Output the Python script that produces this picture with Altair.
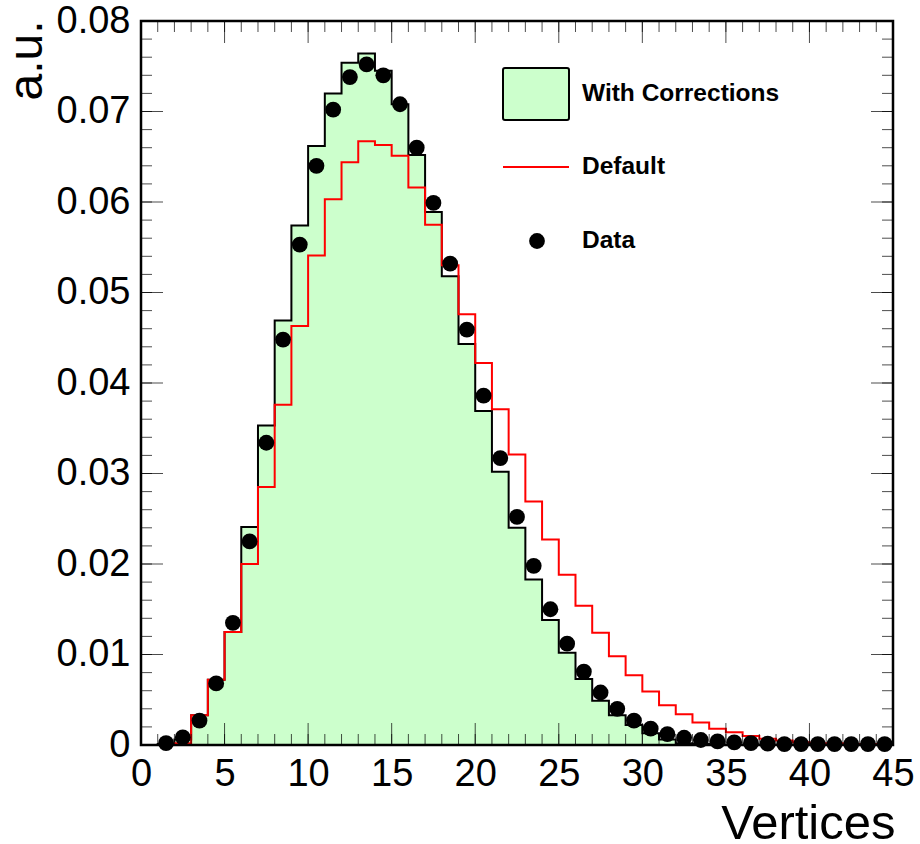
import altair as alt
import pandas as pd

# Number of reconstructed vertices, one bin per unit from 0 to 45
edges = list(range(0, 46))

# Normalised simulation with corrections (filled histogram)
with_corrections = [
    0.0, 0.0001, 0.0006, 0.0033, 0.0072, 0.0125, 0.0241, 0.0353, 0.0469, 0.0574,
    0.0662, 0.0720, 0.0754, 0.0764, 0.0745, 0.0708, 0.0652, 0.0589, 0.0518, 0.0443,
    0.0369, 0.0302, 0.0240, 0.0183, 0.0138, 0.0102, 0.0073, 0.0049, 0.0033, 0.0022,
    0.0013, 0.0006, 0.0002, 0.0001, 0.0, 0.0, 0.0, 0.0, 0.0, 0.0,
    0.0, 0.0, 0.0, 0.0, 0.0,
]

# Normalised default simulation (red outline)
default = [
    0.0, 0.0, 0.0002, 0.0033, 0.0072, 0.0125, 0.0200, 0.0285, 0.0376, 0.0463,
    0.0541, 0.0603, 0.0644, 0.0667, 0.0663, 0.0651, 0.0616, 0.0575, 0.0530, 0.0476,
    0.0422, 0.0371, 0.0321, 0.0269, 0.0227, 0.0188, 0.0154, 0.0124, 0.0098, 0.0077,
    0.0059, 0.0044, 0.0034, 0.0025, 0.0018, 0.0014, 0.0010, 0.0007, 0.0005, 0.0003,
    0.0002, 0.0002, 0.0001, 0.0001, 0.0001,
]

# Normalised data (markers at bin centres, empty first bin)
data_values = [
    None, 0.0002, 0.00085, 0.0027, 0.0068, 0.0135, 0.0225, 0.0334, 0.0448, 0.0553,
    0.0640, 0.0702, 0.0738, 0.0752, 0.0740, 0.0708, 0.0660, 0.0599, 0.0532, 0.0459,
    0.0386, 0.0317, 0.0252, 0.0198, 0.0150, 0.0112, 0.0081, 0.0058, 0.0040, 0.0027,
    0.0018, 0.0012, 0.0008, 0.00055, 0.0004, 0.0003, 0.0002, 0.00015, 0.0001, 0.0001,
    0.0001, 0.0001, 0.0001, 0.0001, 0.0001,
]

legend_labels = ["With Corrections", "Default", "Data"]

x_range = [0, 45]
y_range = [0.0, 0.08]
x_major = list(range(0, 46, 5))
x_minor = list(range(0, 46))
y_major = [round(0.01 * i, 2) for i in range(9)]
y_minor = [round(0.002 * i, 3) for i in range(41)]

W, H = 752, 724
FONT = "Liberation Sans"
GREEN = "#ccffcc"
RED = "#ff0000"

hist = pd.DataFrame({
    "edge": edges,
    "corr": with_corrections + [with_corrections[-1]],
    "default": default + [default[-1]],
})
points = pd.DataFrame({
    "center": [i + 0.5 for i in range(len(data_values))],
    "value": data_values,
}).dropna()

xscale = alt.Scale(domain=x_range, nice=False, zero=False)
yscale = alt.Scale(domain=y_range, nice=False, zero=True)

x_axis = alt.Axis(
    title="Vertices", values=x_major, format="d",
    ticks=False, tickSize=0, domain=False, grid=False,
    labelFont=FONT, labelFontSize=38, labelColor="black",
    labelPadding=10, labelBaseline="top", labelFlush=False, labelOverlap=False,
    titleFont=FONT, titleFontSize=49, titleFontWeight="normal", titleColor="black",
    titleAlign="right", titleAnchor="end", titleBaseline="alphabetic",
    titleX=W + 2, titleY=93,
)
y_axis = alt.Axis(
    title="a.u.", values=y_major,
    labelExpr="datum.value == 0 ? '0' : format(datum.value, '.2f')",
    ticks=False, tickSize=0, domain=False, grid=False,
    labelFont=FONT, labelFontSize=38, labelColor="black",
    labelPadding=11, labelBaseline="middle", labelFlush=False, labelOverlap=False,
    titleFont=FONT, titleFontSize=48, titleFontWeight="normal", titleColor="black",
    titleAngle=270, titleAlign="right", titleAnchor="end", titleBaseline="alphabetic",
    titleX=-100, titleY=-1,
)


def X(field):
    return alt.X(field, type="quantitative", scale=xscale, axis=x_axis)


def Y(field):
    return alt.Y(field, type="quantitative", scale=yscale, axis=y_axis)


hist_base = alt.Chart(hist)
fill = hist_base.mark_area(interpolate="step-after", color=GREEN).encode(x=X("edge"), y=Y("corr"))
outline = hist_base.mark_line(interpolate="step-after", color="black", strokeWidth=2).encode(
    x=X("edge"), y=Y("corr"))
red = hist_base.mark_line(interpolate="step-after", color=RED, strokeWidth=2).encode(
    x=X("edge"), y=Y("default"))
dots = alt.Chart(points).mark_circle(size=250, color="black", opacity=1).encode(
    x=X("center"), y=Y("value"))

# Frame around the plotting area
frame_df = pd.DataFrame({"x0": [x_range[0]], "x1": [x_range[1]], "y0": [y_range[0]], "y1": [y_range[1]]})
frame = alt.Chart(frame_df).mark_rect(fill=None, stroke="black", strokeWidth=2.5).encode(
    x=X("x0"), x2="x1", y=Y("y0"), y2="y1")


# Inward-pointing ticks on all four sides
def xticks(values, at, length, down):
    df = pd.DataFrame({"t": values, "pos": [at] * len(values)})
    return alt.Chart(df).mark_tick(
        orient="vertical", size=length, thickness=1, color="black",
        yOffset=(length / 2 if down else -length / 2),
    ).encode(x=X("t"), y=Y("pos"))


def yticks(values, at, length, left):
    df = pd.DataFrame({"t": values, "pos": [at] * len(values)})
    return alt.Chart(df).mark_tick(
        orient="horizontal", size=length, thickness=1, color="black",
        xOffset=(-length / 2 if left else length / 2),
    ).encode(y=Y("t"), x=X("pos"))


tick_layers = [
    xticks(x_minor, y_range[0], 11, False), xticks(x_major, y_range[0], 22, False),
    xticks(x_minor, y_range[1], 11, True), xticks(x_major, y_range[1], 22, True),
    yticks(y_minor, x_range[0], 11, False), yticks(y_major, x_range[0], 22, False),
    yticks(y_minor, x_range[1], 11, True), yticks(y_major, x_range[1], 22, True),
]

# Legend
leg_box = alt.Chart(pd.DataFrame({"label": [legend_labels[0]]})).mark_rect(
    fill=GREEN, stroke="black", strokeWidth=2, cornerRadius=2
).encode(x=alt.value(362), x2=alt.value(428), y=alt.value(47), y2=alt.value(99))
leg_line = alt.Chart(pd.DataFrame({"label": [legend_labels[1]]})).mark_rule(
    color=RED, strokeWidth=2
).encode(x=alt.value(362), x2=alt.value(428), y=alt.value(146))
leg_dot = alt.Chart(pd.DataFrame({"label": [legend_labels[2]]})).mark_circle(
    size=250, color="black", opacity=1
).encode(x=alt.value(396), y=alt.value(220))


def leg_text(label, ypix):
    return alt.Chart(pd.DataFrame({"label": [label]})).mark_text(
        align="left", baseline="middle", font=FONT, fontWeight="bold", fontSize=24.5, color="black"
    ).encode(x=alt.value(441), y=alt.value(ypix), text="label:N")


legend = [leg_box, leg_line, leg_dot,
          leg_text(legend_labels[0], 73), leg_text(legend_labels[1], 146), leg_text(legend_labels[2], 220)]

chart = alt.layer(fill, outline, red, dots, frame, *tick_layers, *legend).properties(
    width=W, height=H,
    autosize=alt.AutoSizeParams(type="none"),
    padding={"left": 141, "top": 21, "right": 920 - 141 - W, "bottom": 844 - 21 - H},
    background="white",
).configure_view(stroke=None)

chart.save("out.html", embed_options={"renderer": "svg", "actions": False})
